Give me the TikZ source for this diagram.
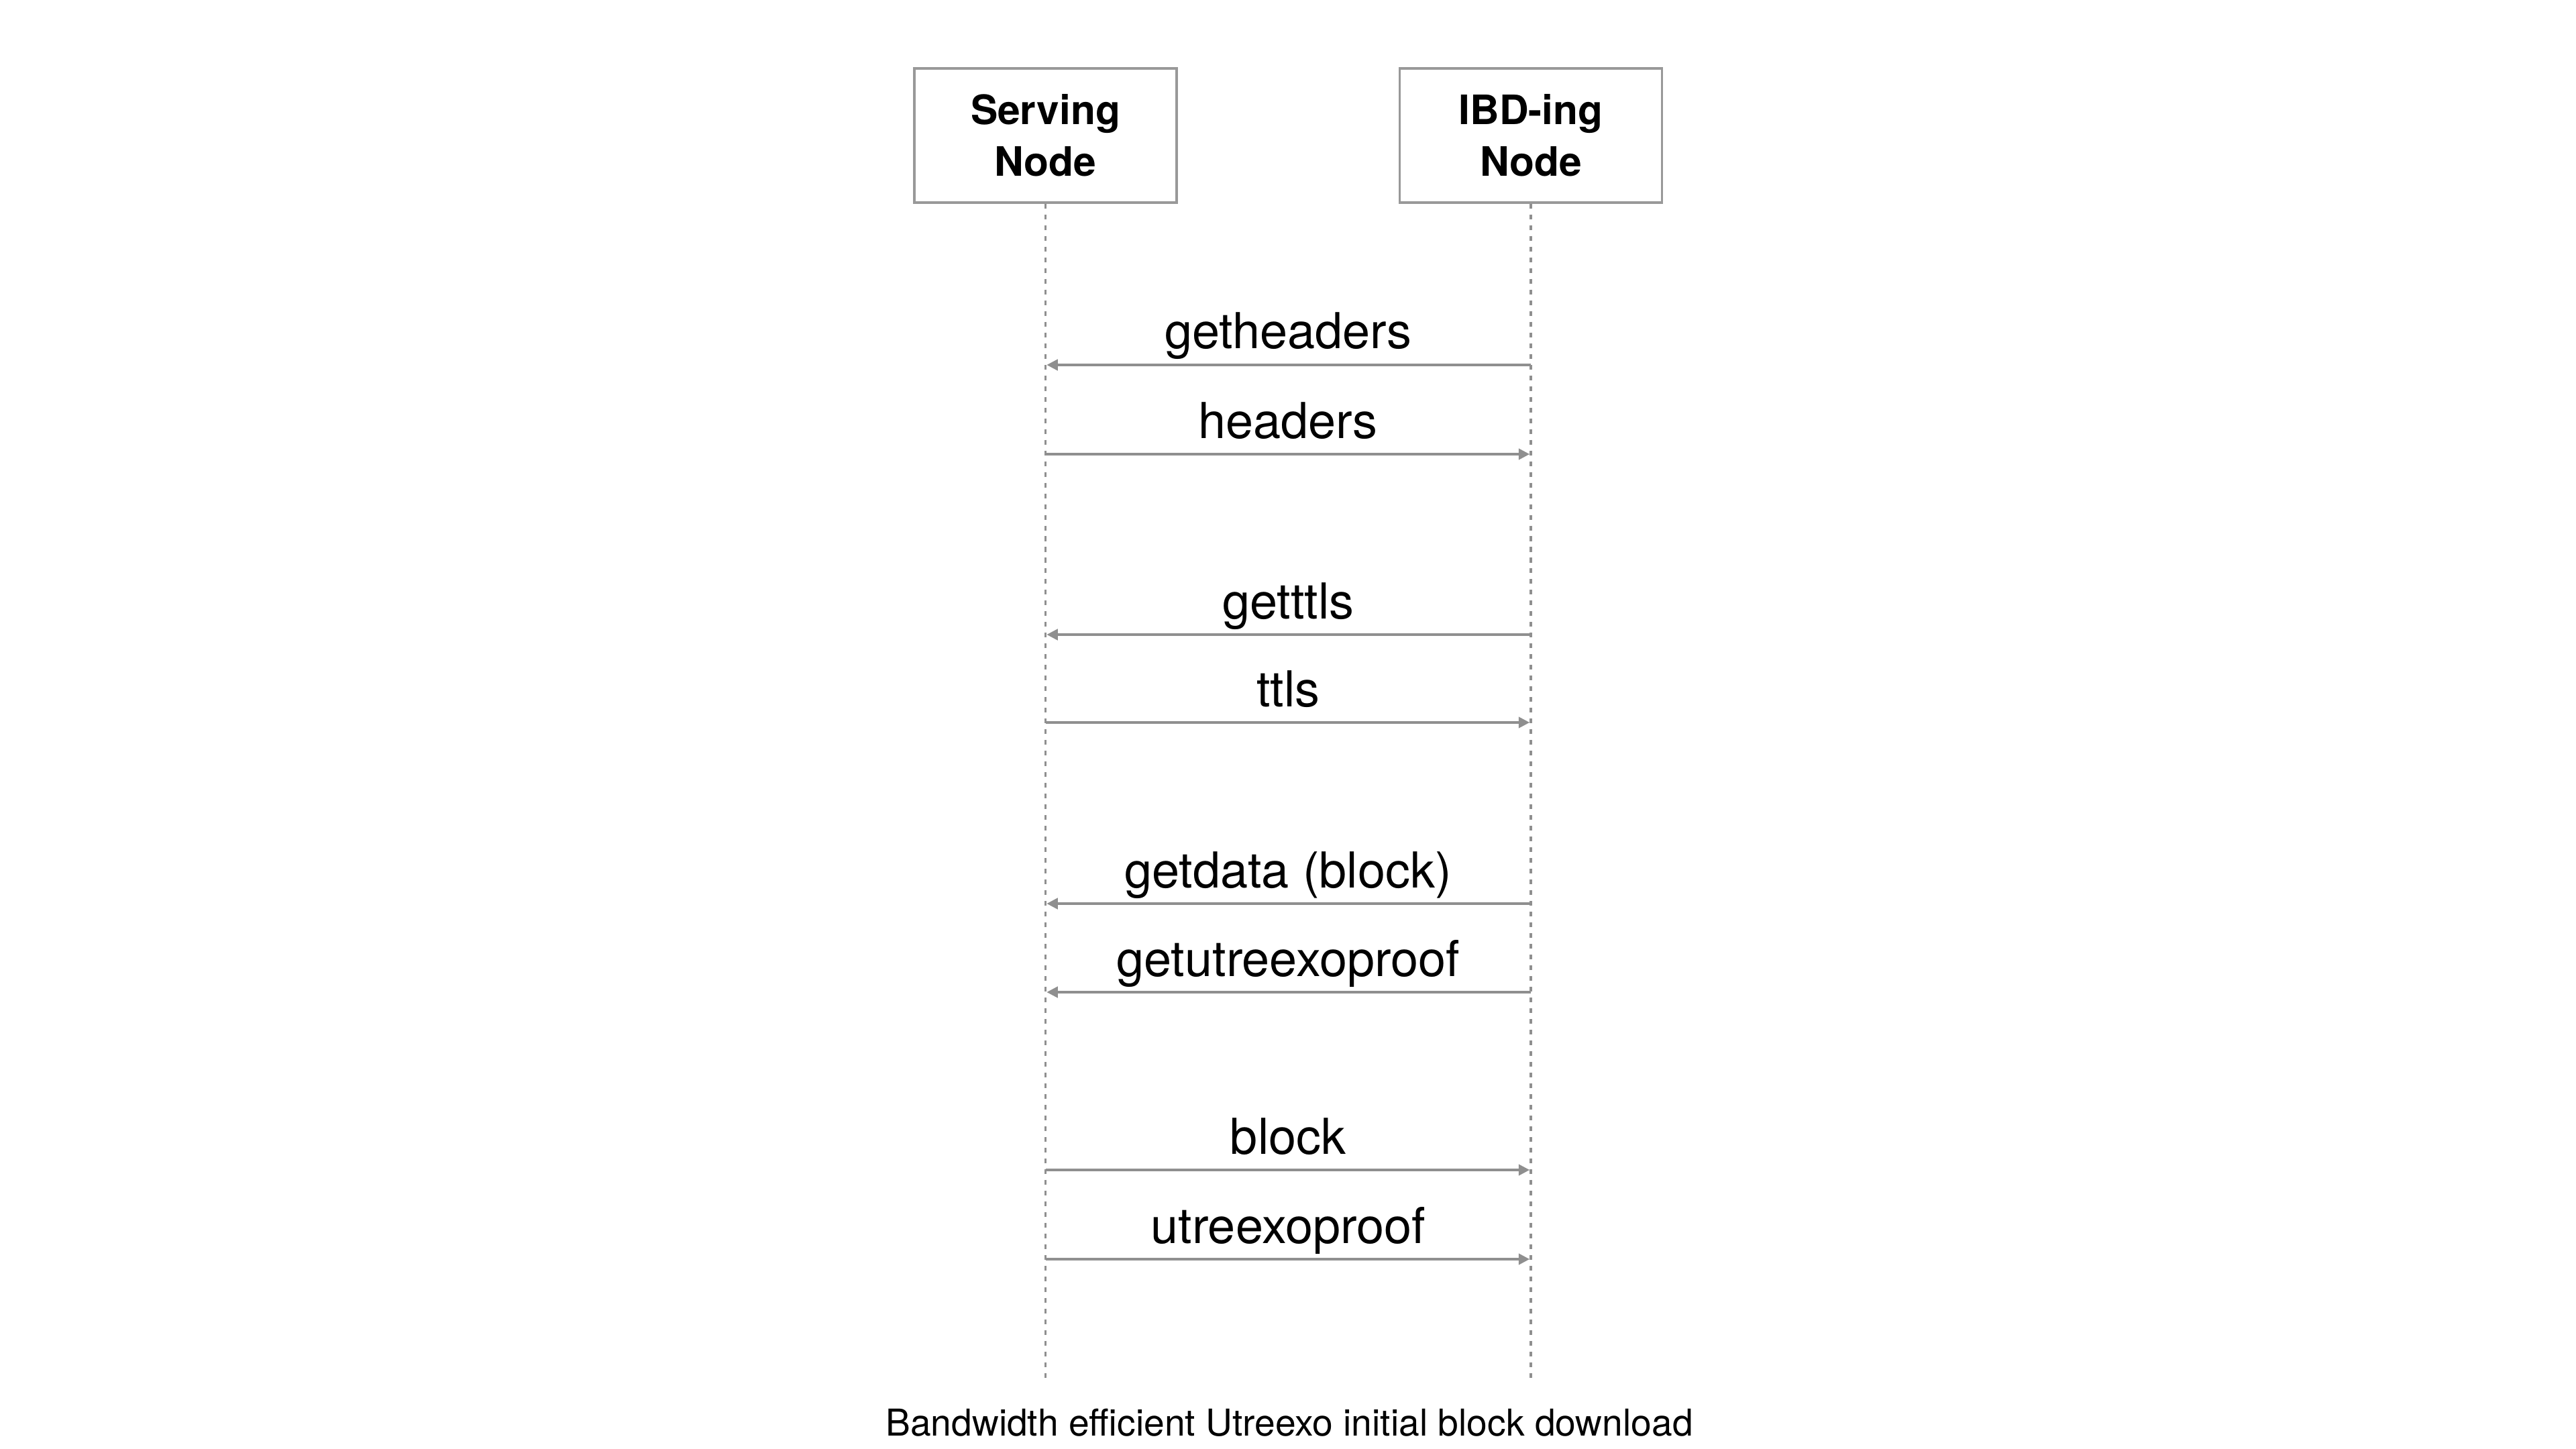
\documentclass[tikz,border=0pt]{standalone}
\usepackage{fontspec}
\setmainfont{TeX Gyre Heros}
\usepackage{tikz}
\usetikzlibrary{arrows.meta, calc}

\definecolor{linegray}{HTML}{8F8F8F}
\definecolor{boxgray}{HTML}{999999}

\tikzset{
  party/.style={draw=boxgray, line width=1pt, minimum width=3.91cm, minimum height=2cm,
    align=center, font=\fontsize{17.2}{21.9}\selectfont\bfseries},
  lifeline/.style={draw=linegray, line width=1.1pt, dash pattern=on 2pt off 2.55pt},
  msg/.style={draw=linegray, line width=1.1pt, -{Triangle[length=4.7pt,width=4.6pt]}, shorten >=0.5pt},
  lbl/.style={midway, anchor=base, yshift=0.24cm, inner sep=0pt, font=\fontsize{21}{25}\selectfont}
}

\begin{document}
\begin{tikzpicture}
\useasboundingbox (0,0) rectangle (38.4,-21.6);
\node[party] (S) at (15.585,-2.02) {Serving\\Node};
\node[party] (I) at (22.82,-2.02) {IBD-ing\\Node};
\coordinate (Send) at (15.585,-20.57);
\coordinate (Iend) at (22.82,-20.57);
\draw[lifeline] (S.south) -- (Send);
\draw[lifeline] (I.south) -- (Iend);
% headers
\coordinate (S1) at (15.585,-5.44); \coordinate (I1) at (22.82,-5.44);
\coordinate (S2) at (15.585,-6.77); \coordinate (I2) at (22.82,-6.77);
\draw[msg] (I1) -- node[lbl] (getheaders) {getheaders} (S1);
\draw[msg] (S2) -- node[lbl] (headers) {headers} (I2);
% ttls
\coordinate (S3) at (15.585,-9.46); \coordinate (I3) at (22.82,-9.46);
\coordinate (S4) at (15.585,-10.77); \coordinate (I4) at (22.82,-10.77);
\draw[msg] (I3) -- node[lbl] (getttls) {getttls} (S3);
\draw[msg] (S4) -- node[lbl] (ttls) {ttls} (I4);
% block and proof requests
\coordinate (S5) at (15.585,-13.47); \coordinate (I5) at (22.82,-13.47);
\coordinate (S6) at (15.585,-14.79); \coordinate (I6) at (22.82,-14.79);
\draw[msg] (I5) -- node[lbl] (getdata) {getdata (block)} (S5);
\draw[msg] (I6) -- node[lbl] (getproof) {getutreexoproof} (S6);
% block and proof
\coordinate (S7) at (15.585,-17.44); \coordinate (I7) at (22.82,-17.44);
\coordinate (S8) at (15.585,-18.77); \coordinate (I8) at (22.82,-18.77);
\draw[msg] (S7) -- node[lbl] (block) {block} (I7);
\draw[msg] (S8) -- node[lbl] (proof) {utreexoproof} (I8);
\node[anchor=base, inner sep=0pt, font=\fontsize{15.7}{19}\selectfont] (caption) at (19.22,-21.40)
  {Bandwidth efficient Utreexo initial block download};
\end{tikzpicture}
\end{document}
